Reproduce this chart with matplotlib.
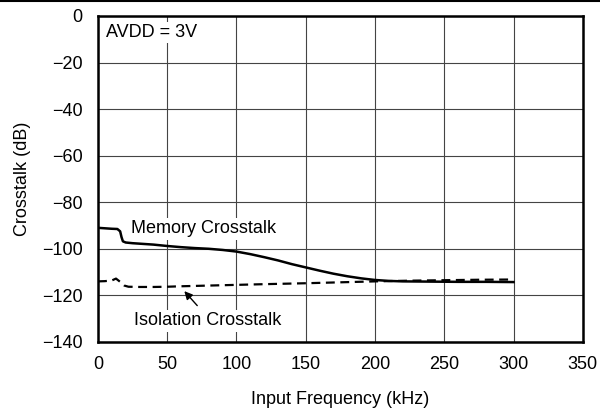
import matplotlib.pyplot as plt
from matplotlib.lines import Line2D

plt.rcParams['font.family'] = ['Liberation Sans', 'DejaVu Sans']

# memory crosstalk (solid)
mem_freq = [0, 5, 10, 14, 16, 17, 18, 20, 25, 30, 40, 50, 60, 70, 80, 90, 100, 110, 120,
            130, 140, 150, 160, 170, 180, 190, 200, 210, 220, 240, 260, 280, 300]
mem_db = [-91.0, -91.2, -91.4, -91.5, -92.5, -95.0, -96.8, -97.3, -97.6, -97.8, -98.2, -98.8,
          -99.3, -99.7, -100.0, -100.5, -101.2, -102.3, -103.6, -105.0, -106.6, -108.0, -109.4,
          -110.7, -111.8, -112.7, -113.4, -113.8, -114.0, -114.1, -114.2, -114.2, -114.3]

# isolation crosstalk (dashed)
iso_freq = [0, 5, 10, 13, 16, 19, 22, 30, 40, 50, 60, 80, 100, 120, 150, 175, 200, 225, 250, 275, 300]
iso_db = [-114.0, -113.9, -113.6, -112.8, -114.2, -115.8, -116.3, -116.4, -116.4, -116.3, -116.1,
          -115.8, -115.5, -115.2, -114.8, -114.4, -114.0, -113.7, -113.5, -113.3, -113.2]

xticks = [0, 50, 100, 150, 200, 250, 300, 350]
yticks = [0, -20, -40, -60, -80, -100, -120, -140]

FS = 13

fig = plt.figure(figsize=(6, 4.08), dpi=100)
ax = fig.add_axes([0.1633, 0.162, 0.808, 0.7988])

ax.plot(mem_freq, mem_db, color='black', lw=1.8, zorder=3)
ax.plot(iso_freq, iso_db, color='black', lw=1.6, ls=(0, (4, 2.5)), zorder=3)

ax.set_xlim(0, 350)
ax.set_ylim(-140, 0)
ax.set_xticks(xticks)
ax.set_yticks(yticks)
ax.set_xticklabels([str(t) for t in xticks])
ax.set_yticklabels([str(t).replace('-', '\u2212') for t in yticks])
ax.tick_params(length=0, labelsize=FS)
ax.tick_params(axis='x', pad=10)
ax.tick_params(axis='y', pad=11)
ax.grid(True, color='#444444', lw=0.8)
for s in ax.spines.values():
    s.set_linewidth(1.8)

ax.set_xlabel('Input Frequency (kHz)', fontsize=FS, labelpad=13)
ax.set_ylabel('Crosstalk (dB)', fontsize=FS, labelpad=8)

ax.text(6, -7, 'AVDD = 3V', fontsize=FS, va='center', ha='left',
        bbox=dict(facecolor='white', edgecolor='none', pad=1.5), zorder=4)
ax.text(24, -91.5, 'Memory Crosstalk', fontsize=FS, va='center', ha='left',
        bbox=dict(facecolor='white', edgecolor='none', pad=1.5), zorder=4)
ax.text(26, -131, 'Isolation Crosstalk', fontsize=FS, va='center', ha='left',
        bbox=dict(facecolor='white', edgecolor='none', pad=1.5), zorder=4)
ax.annotate('', xy=(61, -117.3), xytext=(73, -125.3),
            arrowprops=dict(arrowstyle='-|>', color='black', lw=1.0, mutation_scale=12), zorder=5)

# rule across the top of the figure
fig.add_artist(Line2D([0, 1], [0.998, 0.998], color='black', lw=1.5, transform=fig.transFigure))

fig.savefig('out.png', dpi=100)
